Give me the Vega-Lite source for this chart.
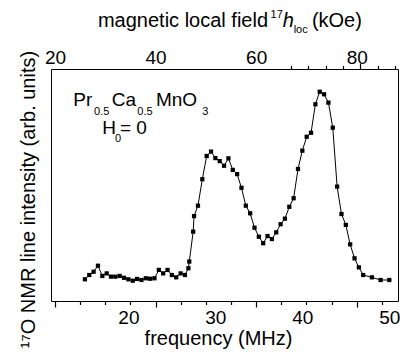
{
  "$schema": "https://vega.github.io/schema/vega-lite/v6.json",
  "width": 347,
  "height": 232,
  "autosize": {"type": "none"},
  "padding": {"left": 51, "top": 69, "right": 9, "bottom": 61},
  "background": "white",
  "config": {
    "view": {"stroke": "#000", "strokeWidth": 1},
    "font": "Liberation Sans",
    "mark": {"color": "#000"},
    "axis": {"grid": false, "domain": false, "zindex": 1, "tickColor": "#000", "tickWidth": 1.2, "labelColor": "#000", "titleColor": "#000", "titleFontWeight": "normal", "labelFont": "Liberation Sans", "titleFont": "Liberation Sans"},
    "text": {"font": "Liberation Sans", "fill": "#000", "fontWeight": "normal"}
  },
  "datasets": {
    "one": [{"k": 1}],
    "nmr": [
    {"f": 15.0, "v": 9.35}, {"f": 15.5, "v": 11.2}, {"f": 16.0, "v": 12.6}, {"f": 16.5, "v": 15.2},
    {"f": 17.0, "v": 10.8}, {"f": 17.5, "v": 11.9}, {"f": 18.0, "v": 10.5}, {"f": 18.5, "v": 10.5},
    {"f": 19.0, "v": 10.8}, {"f": 19.5, "v": 10.0}, {"f": 20.0, "v": 9.35}, {"f": 20.5, "v": 8.75},
    {"f": 21.0, "v": 9.5}, {"f": 21.5, "v": 9.05}, {"f": 22.0, "v": 9.8}, {"f": 22.5, "v": 9.6},
    {"f": 23.0, "v": 9.8}, {"f": 23.5, "v": 13.4}, {"f": 24.0, "v": 11.9}, {"f": 24.5, "v": 13.4},
    {"f": 25.0, "v": 11.2}, {"f": 25.5, "v": 10.2}, {"f": 26.0, "v": 11.9}, {"f": 26.5, "v": 11.2},
    {"f": 26.9, "v": 14.1}, {"f": 27.0, "v": 17.0}, {"f": 27.45, "v": 29.9}, {"f": 27.55, "v": 36.6},
    {"f": 28.0, "v": 41.1}, {"f": 28.5, "v": 52.5}, {"f": 29.0, "v": 62.5}, {"f": 29.5, "v": 64.4},
    {"f": 30.0, "v": 61.6}, {"f": 30.5, "v": 60.3}, {"f": 31.0, "v": 58.3}, {"f": 31.5, "v": 61.5},
    {"f": 32.0, "v": 56.5}, {"f": 32.5, "v": 54.7}, {"f": 33.0, "v": 48.8}, {"f": 33.5, "v": 41.1},
    {"f": 34.0, "v": 37.8}, {"f": 34.5, "v": 31.6}, {"f": 35.0, "v": 27.7}, {"f": 35.5, "v": 24.9},
    {"f": 36.0, "v": 28.0}, {"f": 36.5, "v": 26.7}, {"f": 37.0, "v": 29.6}, {"f": 37.5, "v": 33.1},
    {"f": 38.0, "v": 35.5}, {"f": 38.5, "v": 40.6}, {"f": 39.0, "v": 44.3}, {"f": 39.5, "v": 56.9},
    {"f": 40.0, "v": 64.8}, {"f": 40.5, "v": 70.8}, {"f": 41.0, "v": 72.5}, {"f": 41.5, "v": 84.8},
    {"f": 42.0, "v": 90.2}, {"f": 42.5, "v": 89.1}, {"f": 43.0, "v": 85.5}, {"f": 43.5, "v": 74.7},
    {"f": 44.0, "v": 49.3}, {"f": 44.5, "v": 37.5}, {"f": 45.0, "v": 32.8}, {"f": 45.5, "v": 24.4},
    {"f": 46.0, "v": 18.4}, {"f": 46.5, "v": 14.5}, {"f": 47.0, "v": 11.2}, {"f": 48.0, "v": 10.2},
    {"f": 49.0, "v": 9.05}, {"f": 50.0, "v": 9.05}
  ]},
  "resolve": {"scale": {"x": "independent"}, "axis": {"x": "independent", "y": "independent"}},
  "layer": [
    {
      "data": {"name": "nmr"},
      "mark": {"type": "line", "color": "#000", "strokeWidth": 1},
      "encoding": {
        "x": {"field": "f", "type": "quantitative", "scale": {"domain": [11.1, 51.0], "nice": false, "zero": false},
          "axis": {"values": [20, 30, 40, 50], "ticks": false, "labelPadding": 7, "labelFontSize": 19, "title": "frequency (MHz)", "titleFontSize": 20, "titlePadding": 1, "titleX": 167}},
        "y": {"field": "v", "type": "quantitative", "scale": {"domain": [0, 100], "nice": false},
          "axis": {"title": "¹⁷O NMR line intensity (arb. units)", "titleFontSize": 20, "ticks": false, "labels": false, "titlePadding": 13, "titleY": 130}}
      }
    },
    {
      "data": {"name": "nmr"},
      "mark": {"type": "square", "color": "#000", "filled": true, "size": 18, "opacity": 1},
      "encoding": {
        "x": {"field": "f", "type": "quantitative", "scale": {"domain": [11.1, 51.0], "nice": false, "zero": false},
          "axis": {"orient": "top", "position": 232, "values": [20, 30, 40, 50], "ticks": true, "tickSize": 6, "labels": false, "title": null}},
        "y": {"field": "v", "type": "quantitative", "axis": null}
      }
    },
    {
      "data": {"name": "one"},
      "mark": {"type": "point", "opacity": 0},
      "encoding": {
        "x": {"datum": 30, "type": "quantitative", "scale": {"domain": [11.1, 51.0], "nice": false, "zero": false},
          "axis": {"orient": "top", "position": 232, "values": [12, 14, 16, 18, 22, 24, 26, 28, 32, 34, 36, 38, 42, 44, 46, 48], "ticks": true, "tickSize": 3.5, "labels": false, "title": null}}
      }
    },
    {
      "data": {"name": "one"},
      "mark": {"type": "point", "opacity": 0},
      "encoding": {
        "x": {"datum": 50, "type": "quantitative", "scale": {"domain": [19.2, 88.2], "nice": false, "zero": false},
          "axis": {"orient": "top", "values": [20, 40, 60, 80], "ticks": false, "labelPadding": 2, "labelFontSize": 19, "title": null}}
      }
    },
    {
      "data": {"name": "one"},
      "mark": {"type": "point", "opacity": 0},
      "encoding": {
        "x": {"datum": 50, "type": "quantitative", "scale": {"domain": [19.2, 88.2], "nice": false, "zero": false},
          "axis": {"orient": "bottom", "position": 0, "values": [20, 40, 60, 80], "ticks": true, "tickSize": 6, "labels": false, "title": null}}
      }
    },
    {
      "data": {"name": "one"},
      "mark": {"type": "point", "opacity": 0},
      "encoding": {
        "x": {"datum": 50, "type": "quantitative", "scale": {"domain": [19.2, 88.2], "nice": false, "zero": false},
          "axis": {"orient": "bottom", "position": 0, "values": [25, 30, 35, 45, 50, 55, 65, 70, 75, 85], "ticks": true, "tickSize": 3.5, "labels": false, "title": null}}
      }
    },
    {
      "data": {"name": "one"},
      "mark": {"type": "text", "align": "left", "baseline": "alphabetic", "fontSize": 20, "color": "#000"},
      "encoding": {
        "x": {"datum": 16.5, "type": "quantitative", "scale": {"domain": [11.1, 51.0], "nice": false, "zero": false}, "axis": null},
        "y": {"datum": 118.1, "type": "quantitative", "axis": null},
        "text": {"value": "magnetic local field"}
      }
    },
    {
      "data": {"name": "one"},
      "mark": {"type": "text", "align": "left", "baseline": "alphabetic", "fontSize": 11, "color": "#000"},
      "encoding": {
        "x": {"datum": 36.35, "type": "quantitative", "scale": {"domain": [11.1, 51.0], "nice": false, "zero": false}, "axis": null},
        "y": {"datum": 122.0, "type": "quantitative", "axis": null},
        "text": {"value": "17"}
      }
    },
    {
      "data": {"name": "one"},
      "mark": {"type": "text", "align": "left", "baseline": "alphabetic", "fontSize": 20, "fontStyle": "italic", "color": "#000"},
      "encoding": {
        "x": {"datum": 37.75, "type": "quantitative", "scale": {"domain": [11.1, 51.0], "nice": false, "zero": false}, "axis": null},
        "y": {"datum": 118.1, "type": "quantitative", "axis": null},
        "text": {"value": "h"}
      }
    },
    {
      "data": {"name": "one"},
      "mark": {"type": "text", "align": "left", "baseline": "alphabetic", "fontSize": 11, "color": "#000"},
      "encoding": {
        "x": {"datum": 39.0, "type": "quantitative", "scale": {"domain": [11.1, 51.0], "nice": false, "zero": false}, "axis": null},
        "y": {"datum": 115.5, "type": "quantitative", "axis": null},
        "text": {"value": "loc"}
      }
    },
    {
      "data": {"name": "one"},
      "mark": {"type": "text", "align": "left", "baseline": "alphabetic", "fontSize": 20, "color": "#000"},
      "encoding": {
        "x": {"datum": 41.1, "type": "quantitative", "scale": {"domain": [11.1, 51.0], "nice": false, "zero": false}, "axis": null},
        "y": {"datum": 118.1, "type": "quantitative", "axis": null},
        "text": {"value": "(kOe)"}
      }
    },
    {
      "data": {"name": "one"},
      "mark": {"type": "text", "align": "left", "baseline": "alphabetic", "fontSize": 19, "color": "#000"},
      "encoding": {
        "x": {"datum": 13.66, "type": "quantitative", "scale": {"domain": [11.1, 51.0], "nice": false, "zero": false}, "axis": null},
        "y": {"datum": 84.0, "type": "quantitative", "axis": null},
        "text": {"value": "Pr"}
      }
    },
    {
      "data": {"name": "one"},
      "mark": {"type": "text", "align": "left", "baseline": "alphabetic", "fontSize": 11, "color": "#000"},
      "encoding": {
        "x": {"datum": 16.04, "type": "quantitative", "scale": {"domain": [11.1, 51.0], "nice": false, "zero": false}, "axis": null},
        "y": {"datum": 80.0, "type": "quantitative", "axis": null},
        "text": {"value": "0.5"}
      }
    },
    {
      "data": {"name": "one"},
      "mark": {"type": "text", "align": "left", "baseline": "alphabetic", "fontSize": 19, "color": "#000"},
      "encoding": {
        "x": {"datum": 18.08, "type": "quantitative", "scale": {"domain": [11.1, 51.0], "nice": false, "zero": false}, "axis": null},
        "y": {"datum": 84.0, "type": "quantitative", "axis": null},
        "text": {"value": "Ca"}
      }
    },
    {
      "data": {"name": "one"},
      "mark": {"type": "text", "align": "left", "baseline": "alphabetic", "fontSize": 11, "color": "#000"},
      "encoding": {
        "x": {"datum": 21.02, "type": "quantitative", "scale": {"domain": [11.1, 51.0], "nice": false, "zero": false}, "axis": null},
        "y": {"datum": 80.0, "type": "quantitative", "axis": null},
        "text": {"value": "0.5"}
      }
    },
    {
      "data": {"name": "one"},
      "mark": {"type": "text", "align": "left", "baseline": "alphabetic", "fontSize": 19, "color": "#000"},
      "encoding": {
        "x": {"datum": 23.17, "type": "quantitative", "scale": {"domain": [11.1, 51.0], "nice": false, "zero": false}, "axis": null},
        "y": {"datum": 84.0, "type": "quantitative", "axis": null},
        "text": {"value": "MnO"}
      }
    },
    {
      "data": {"name": "one"},
      "mark": {"type": "text", "align": "left", "baseline": "alphabetic", "fontSize": 11, "color": "#000"},
      "encoding": {
        "x": {"datum": 28.5, "type": "quantitative", "scale": {"domain": [11.1, 51.0], "nice": false, "zero": false}, "axis": null},
        "y": {"datum": 80.0, "type": "quantitative", "axis": null},
        "text": {"value": "3"}
      }
    },
    {
      "data": {"name": "one"},
      "mark": {"type": "text", "align": "left", "baseline": "alphabetic", "fontSize": 19, "color": "#000"},
      "encoding": {
        "x": {"datum": 16.99, "type": "quantitative", "scale": {"domain": [11.1, 51.0], "nice": false, "zero": false}, "axis": null},
        "y": {"datum": 72.0, "type": "quantitative", "axis": null},
        "text": {"value": "H"}
      }
    },
    {
      "data": {"name": "one"},
      "mark": {"type": "text", "align": "left", "baseline": "alphabetic", "fontSize": 11, "color": "#000"},
      "encoding": {
        "x": {"datum": 18.46, "type": "quantitative", "scale": {"domain": [11.1, 51.0], "nice": false, "zero": false}, "axis": null},
        "y": {"datum": 68.5, "type": "quantitative", "axis": null},
        "text": {"value": "0"}
      }
    },
    {
      "data": {"name": "one"},
      "mark": {"type": "text", "align": "left", "baseline": "alphabetic", "fontSize": 19, "color": "#000"},
      "encoding": {
        "x": {"datum": 19.03, "type": "quantitative", "scale": {"domain": [11.1, 51.0], "nice": false, "zero": false}, "axis": null},
        "y": {"datum": 72.0, "type": "quantitative", "axis": null},
        "text": {"value": "= 0"}
      }
    }
  ]
}
